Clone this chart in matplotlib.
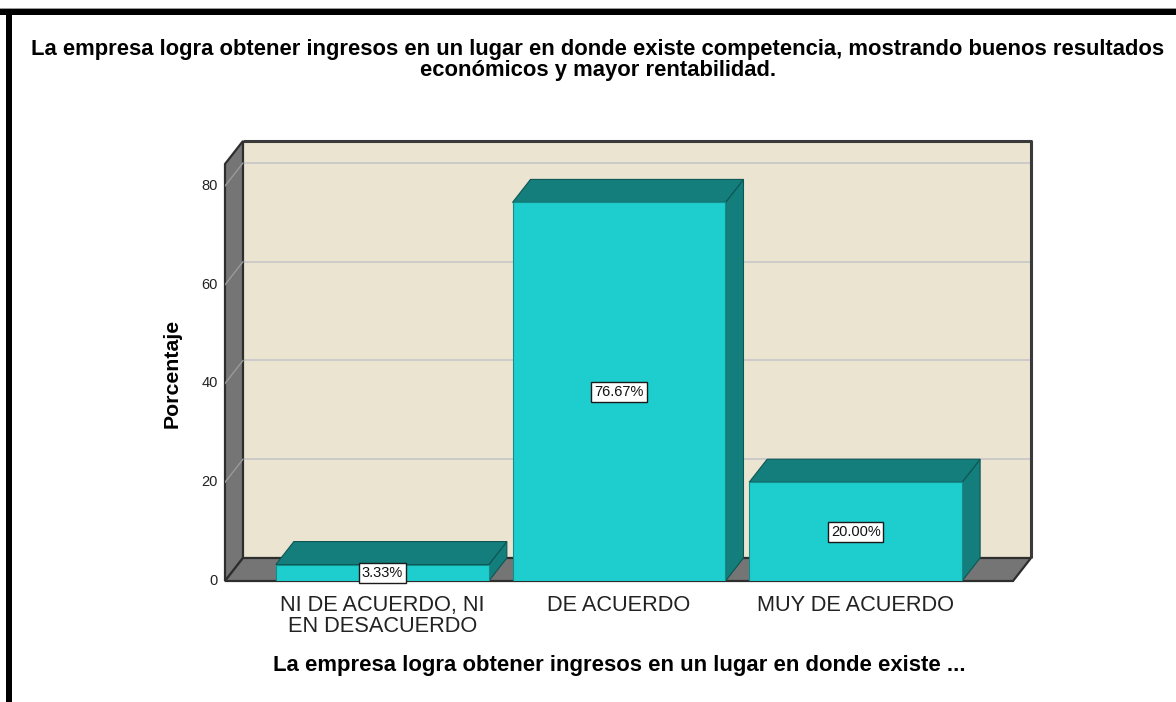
import matplotlib
matplotlib.use("Agg")
import matplotlib.pyplot as plt
from matplotlib.patches import Polygon, Rectangle

plt.rcParams['font.family'] = ['Liberation Sans', 'DejaVu Sans']

# ---- data ----
categories = ["NI DE ACUERDO, NI\nEN DESACUERDO", "DE ACUERDO", "MUY DE ACUERDO"]
percentages = [3.33, 76.67, 20.00]
value_labels = ["3.33%", "76.67%", "20.00%"]
y_ticks = [0, 20, 40, 60, 80]
title = ("La empresa logra obtener ingresos en un lugar en donde existe competencia, "
         "mostrando buenos resultados\neconómicos y mayor rentabilidad.")
x_title = "La empresa logra obtener ingresos en un lugar en donde existe ..."
y_title = "Porcentaje"

# ---- style ----
FRONT = "#1ECDCD"
DARK = "#137E7B"
WALL = "#EAE4D1"
FLOOR = "#757575"
EDGE = "#2E2E2E"
GRID = "#C9C9C9"

W, H = 1176, 702
fig = plt.figure(figsize=(W / 100, H / 100), dpi=100)
fig.patch.set_facecolor("white")

# plotting area in pixels (front floor edge at y=581, back wall top at y=141)
px_left, px_right, px_bottom, px_top = 225, 1031, 581, 141
ax = fig.add_axes([px_left / W, (H - px_bottom) / H,
                   (px_right - px_left) / W, (px_bottom - px_top) / H])
ax.axis("off")

n = len(categories)
XMIN, XMAX = -0.665, n - 1 + 0.665
DX = 0.076          # depth offset (x, data units)
DY = 4.66           # depth offset (y, data units)
YTOP = 84.45        # front-equivalent top of axis
ax.set_xlim(XMIN, XMAX + DX)
ax.set_ylim(0, YTOP + DY)

# back wall
ax.add_patch(Rectangle((XMIN + DX, DY), XMAX - XMIN, YTOP, facecolor=WALL,
                       edgecolor="none", zorder=1))
ax.plot([XMIN + DX, XMAX + DX, XMAX + DX], [YTOP + DY, YTOP + DY, DY],
        color="#3a3a3a", lw=2.2, zorder=1.5, clip_on=False, solid_capstyle="butt")
for v in y_ticks[1:]:
    ax.plot([XMIN + DX, XMAX + DX], [v + DY, v + DY], color=GRID, lw=1.3, zorder=1.2)

# left wall
ax.add_patch(Polygon([(XMIN, 0), (XMIN, YTOP), (XMIN + DX, YTOP + DY), (XMIN + DX, DY)],
                     closed=True, facecolor=FLOOR, edgecolor=EDGE, lw=1.6, zorder=2,
                     clip_on=False))
for v in y_ticks[1:]:
    ax.plot([XMIN, XMIN + DX], [v, v + DY], color="#9a9a9a", lw=1.0, zorder=2.1)
# floor
ax.add_patch(Polygon([(XMIN, 0), (XMAX, 0), (XMAX + DX, DY), (XMIN + DX, DY)],
                     closed=True, facecolor=FLOOR, edgecolor=EDGE, lw=1.6, zorder=2,
                     clip_on=False))

# bars
BW = 0.9
for i, v in enumerate(percentages):
    x0, x1 = i - BW / 2, i + BW / 2
    side = Polygon([(x1, 0), (x1, v), (x1 + DX, v + DY), (x1 + DX, DY)], closed=True,
                   facecolor=DARK, edgecolor="#0d5654", lw=0.8, zorder=3)
    top = Polygon([(x0, v), (x1, v), (x1 + DX, v + DY), (x0 + DX, v + DY)], closed=True,
                  facecolor=DARK, edgecolor="#0d5654", lw=0.8, zorder=3)
    ax.add_patch(side)
    ax.add_patch(top)
bars = ax.bar(range(n), percentages, width=BW, color=FRONT, edgecolor="#138c8a",
              lw=0.8, zorder=4)

for i, (v, lab) in enumerate(zip(percentages, value_labels)):
    ax.text(i, v / 2, lab, ha="center", va="center", fontsize=10.5, color="#111111",
            zorder=6, bbox=dict(boxstyle="square,pad=0.2", facecolor="white",
                                edgecolor="#1a1a1a", lw=1.0))

# y tick labels
for v in y_ticks:
    ax.annotate(str(v), xy=(XMIN, v), xytext=(-5, 0), textcoords="offset points",
                ha="right", va="center", fontsize=10.5, color="#222222",
                annotation_clip=False)

# category labels
for i, c in enumerate(categories):
    ax.annotate(c, xy=(i, 0), xytext=(0, -10), textcoords="offset points",
                ha="center", va="top", fontsize=15.7, color="#222222",
                linespacing=1.0, annotation_clip=False)

# axis titles
fig.text(172 / W, 1 - 373 / H, y_title, rotation=90, ha="center", va="center",
         fontsize=15.3, fontweight="bold", color="black")
fig.text(619 / W, 1 - 666 / H, x_title, ha="center", va="center",
         fontsize=15.9, fontweight="bold", color="black")
fig.text(598 / W, 1 - 60 / H, title, ha="center", va="center",
         fontsize=15.8, fontweight="bold", color="black", linespacing=1.0)

# outer frame (top and left black bands)
fig.add_artist(Rectangle((0, 1 - 15 / H), 1, 6 / H, transform=fig.transFigure,
                         facecolor="black", edgecolor="none"))
fig.add_artist(Rectangle((0, 1 - 9 / H), 1, 1.5 / H, transform=fig.transFigure,
                         facecolor="#9a9a9a", edgecolor="none"))
fig.add_artist(Rectangle((6 / W, 0), 6 / W, 1 - 9 / H, transform=fig.transFigure,
                         facecolor="black", edgecolor="none"))

fig.savefig("out.png", dpi=100)
